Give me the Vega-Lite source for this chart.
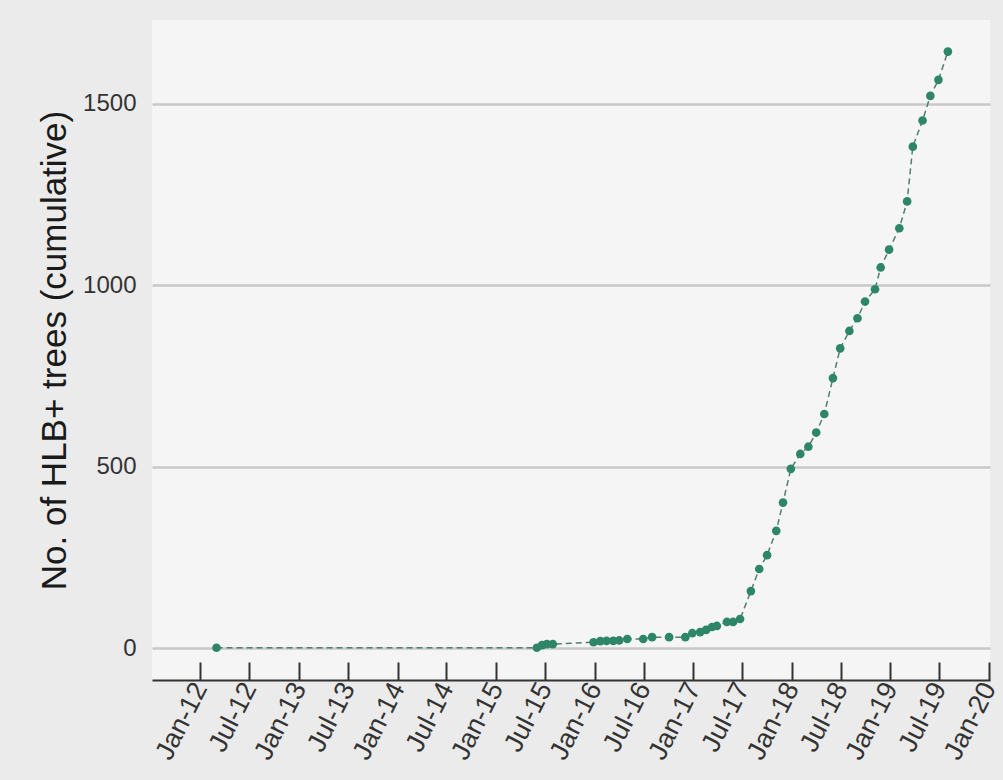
{
  "$schema": "https://vega.github.io/schema/vega-lite/v6.json",
  "width": 838,
  "height": 660,
  "autosize": "none",
  "padding": {"left": 152, "top": 20, "right": 13, "bottom": 100},
  "background": "#ebebeb",
  "config": {
    "view": {"fill": "#f5f5f5", "stroke": null},
    "font": "Liberation Sans"
  },
  "data": {
    "values": [
      {"date": "2012-03-01", "trees": 1},
      {"date": "2015-06-01", "trees": 1},
      {"date": "2015-06-20", "trees": 8},
      {"date": "2015-07-08", "trees": 11},
      {"date": "2015-07-30", "trees": 11},
      {"date": "2015-12-28", "trees": 16},
      {"date": "2016-01-22", "trees": 19},
      {"date": "2016-02-14", "trees": 20},
      {"date": "2016-03-10", "trees": 20},
      {"date": "2016-04-01", "trees": 21},
      {"date": "2016-05-01", "trees": 25},
      {"date": "2016-06-29", "trees": 25},
      {"date": "2016-08-01", "trees": 30},
      {"date": "2016-10-03", "trees": 30},
      {"date": "2016-12-02", "trees": 30},
      {"date": "2016-12-28", "trees": 41},
      {"date": "2017-01-26", "trees": 44},
      {"date": "2017-02-17", "trees": 50},
      {"date": "2017-03-11", "trees": 58},
      {"date": "2017-03-29", "trees": 61},
      {"date": "2017-05-05", "trees": 72},
      {"date": "2017-05-28", "trees": 72},
      {"date": "2017-06-23", "trees": 80},
      {"date": "2017-08-02", "trees": 157},
      {"date": "2017-09-02", "trees": 218},
      {"date": "2017-10-01", "trees": 256},
      {"date": "2017-11-04", "trees": 323},
      {"date": "2017-11-29", "trees": 401},
      {"date": "2017-12-28", "trees": 494},
      {"date": "2018-02-01", "trees": 535},
      {"date": "2018-03-03", "trees": 555},
      {"date": "2018-04-01", "trees": 594},
      {"date": "2018-05-01", "trees": 645},
      {"date": "2018-06-02", "trees": 744},
      {"date": "2018-06-29", "trees": 826},
      {"date": "2018-08-02", "trees": 874},
      {"date": "2018-09-01", "trees": 909},
      {"date": "2018-09-29", "trees": 955},
      {"date": "2018-11-05", "trees": 989},
      {"date": "2018-11-26", "trees": 1049},
      {"date": "2018-12-27", "trees": 1098},
      {"date": "2019-02-03", "trees": 1157},
      {"date": "2019-03-04", "trees": 1231},
      {"date": "2019-03-25", "trees": 1382},
      {"date": "2019-04-30", "trees": 1454},
      {"date": "2019-05-29", "trees": 1522},
      {"date": "2019-06-28", "trees": 1566},
      {"date": "2019-08-02", "trees": 1644}
    ]
  },
  "encoding": {
    "x": {
      "field": "date",
      "type": "temporal",
      "scale": {"domain": [{"year": 2011, "month": 7, "date": 6}, {"year": 2020, "month": 1, "date": 5}], "nice": false},
      "axis": {
        "title": null,
        "values": [
          {"year": 2012, "month": 1, "date": 1}, {"year": 2012, "month": 7, "date": 1},
          {"year": 2013, "month": 1, "date": 1}, {"year": 2013, "month": 7, "date": 1},
          {"year": 2014, "month": 1, "date": 1}, {"year": 2014, "month": 7, "date": 1},
          {"year": 2015, "month": 1, "date": 1}, {"year": 2015, "month": 7, "date": 1},
          {"year": 2016, "month": 1, "date": 1}, {"year": 2016, "month": 7, "date": 1},
          {"year": 2017, "month": 1, "date": 1}, {"year": 2017, "month": 7, "date": 1},
          {"year": 2018, "month": 1, "date": 1}, {"year": 2018, "month": 7, "date": 1},
          {"year": 2019, "month": 1, "date": 1}, {"year": 2019, "month": 7, "date": 1},
          {"year": 2020, "month": 1, "date": 1}
        ],
        "format": "%b-%y",
        "grid": false,
        "domainColor": "#333333",
        "domainWidth": 2,
        "tickColor": "#333333",
        "tickWidth": 2,
        "tickSize": -18,
        "labelPadding": 22,
        "labelAngle": -63,
        "labelAlign": "right",
        "labelBaseline": "middle",
        "labelFontSize": 27,
        "labelColor": "#333333",
        "labelOverlap": false,
        "labelFlush": false
      }
    },
    "y": {
      "field": "trees",
      "type": "quantitative",
      "scale": {"domain": [-88, 1731], "nice": false, "zero": false},
      "axis": {
        "title": "No. of HLB+ trees (cumulative)",
        "values": [0, 500, 1000, 1500],
        "format": "d",
        "domain": false,
        "ticks": false,
        "gridColor": "#c8c8c8",
        "gridWidth": 2.5,
        "labelFontSize": 24,
        "labelColor": "#333333",
        "labelPadding": 16,
        "titleFontSize": 35,
        "titleFontWeight": "normal",
        "titleColor": "#1a1a1a",
        "titlePadding": 10
      }
    }
  },
  "layer": [
    {
      "mark": {"type": "line", "color": "#4f7f70", "strokeDash": [6, 4], "strokeWidth": 1.5}
    },
    {
      "mark": {"type": "point", "filled": true, "color": "#2e8668", "opacity": 1, "size": 75}
    }
  ]
}
